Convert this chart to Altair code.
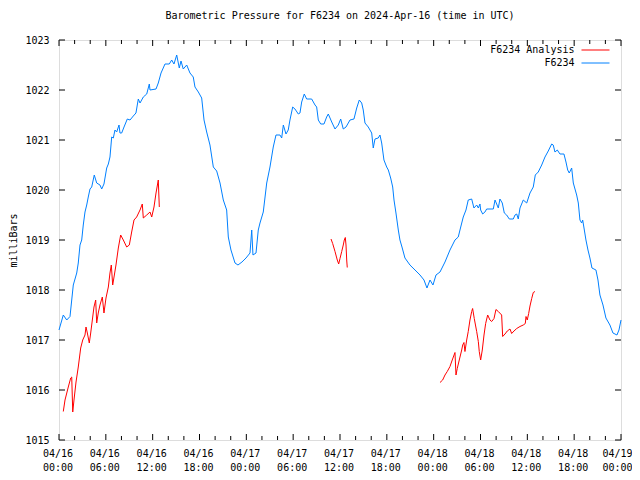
import altair as alt
import pandas as pd

# ---------------- data (hours since 2024-04-16 00:00 UTC, pressure in mb) ----------------
obs_hours = [0.0, 0.55, 0.99, 1.41, 1.63, 1.83, 2.27, 2.47, 2.69, 2.91, 3.11, 3.33, 3.55, 3.75, 3.97,
             4.19, 4.52, 4.83, 5.25, 5.47, 5.76, 6.11, 6.32, 6.53, 6.75, 6.96, 7.17, 7.39, 7.69, 7.81,
             8.03, 8.33, 8.75, 9.10, 9.52, 9.86, 10.03, 10.16, 10.38, 10.80, 11.24, 11.57, 11.66, 12.43,
             12.72, 13.07, 13.58, 14.13, 14.44, 14.73, 15.08, 15.41, 15.63, 15.92, 16.36, 16.78, 17.20,
             17.42, 17.85, 18.28, 18.58, 18.92, 19.34, 19.77, 20.20, 20.63, 21.05, 21.48, 21.69, 22.03,
             22.55, 22.93, 23.44, 23.96, 24.47, 24.69, 24.85, 25.24, 25.53, 25.75, 26.17, 26.61, 27.03,
             27.45, 27.80, 28.31, 28.53, 28.74, 29.08, 29.37, 29.59, 29.94, 30.23, 30.66, 30.87, 31.09,
             31.42, 31.73, 32.37, 32.80, 33.01, 33.22, 33.53, 33.95, 34.29, 34.50, 34.94, 35.36, 35.78,
             36.09, 36.42, 36.77, 37.28, 37.79, 38.14, 38.47, 38.78, 38.98, 39.20, 39.62, 40.06, 40.26,
             40.48, 40.90, 41.12, 41.34, 41.63, 41.98, 42.19, 42.49, 42.75, 42.92, 43.17, 43.47, 43.68,
             43.94, 44.32, 44.96, 45.61, 46.25, 46.76, 47.14, 47.53, 47.91, 48.30, 48.81, 49.45, 50.09,
             50.73, 51.15, 51.37, 51.79, 52.14, 52.43, 52.87, 53.16, 53.51, 53.72, 53.93, 54.02, 54.28,
             54.57, 54.79, 55.64, 55.86, 56.07, 56.28, 56.49, 56.79, 57.05, 57.35, 57.69, 58.20, 58.42,
             58.64, 58.84, 59.06, 59.48, 59.92, 60.34, 60.76, 61.02, 61.40, 61.84, 62.26, 62.68, 63.12,
             63.32, 63.54, 63.84, 64.18, 64.69, 64.95, 65.17, 65.37, 65.68, 65.89, 66.32, 66.53, 66.74,
             66.96, 67.09, 67.26, 67.51, 67.77, 68.02, 68.28, 68.79, 69.05, 69.30, 69.69, 70.07, 70.58,
             70.97, 71.48, 71.74, 72.0]
obs_mbar = [1017.2, 1017.5, 1017.4, 1017.47, 1017.8, 1018.1, 1018.34, 1018.54, 1018.9, 1019.0, 1019.3,
            1019.56, 1019.7, 1019.86, 1020.02, 1020.06, 1020.3, 1020.14, 1020.1, 1020.02, 1020.12, 1020.44,
            1020.52, 1020.66, 1021.06, 1021.04, 1021.2, 1021.16, 1021.3, 1021.14, 1021.14, 1021.26, 1021.42,
            1021.4, 1021.48, 1021.54, 1021.7, 1021.82, 1021.74, 1021.86, 1021.92, 1022.12, 1022.0, 1022.02,
            1022.14, 1022.34, 1022.52, 1022.52, 1022.6, 1022.52, 1022.7, 1022.44, 1022.58, 1022.42, 1022.5,
            1022.34, 1022.26, 1022.06, 1021.96, 1021.84, 1021.4, 1021.16, 1020.9, 1020.46, 1020.38, 1020.14,
            1019.8, 1019.6, 1019.06, 1018.8, 1018.54, 1018.5, 1018.56, 1018.64, 1018.74, 1019.2, 1018.7,
            1018.74, 1019.2, 1019.34, 1019.56, 1020.14, 1020.46, 1020.86, 1021.1, 1021.1, 1021.04, 1021.3,
            1021.12, 1021.2, 1021.4, 1021.66, 1021.62, 1021.52, 1021.54, 1021.76, 1021.92, 1021.82, 1021.82,
            1021.7, 1021.66, 1021.4, 1021.32, 1021.32, 1021.46, 1021.52, 1021.36, 1021.22, 1021.3, 1021.42,
            1021.22, 1021.26, 1021.4, 1021.42, 1021.64, 1021.8, 1021.74, 1021.6, 1021.34, 1021.26, 1021.14,
            1020.84, 1021.02, 1021.04, 1021.1, 1020.94, 1020.6, 1020.46, 1020.4, 1020.24, 1020.06, 1019.8,
            1019.54, 1019.2, 1019.0, 1018.86, 1018.64, 1018.5, 1018.4, 1018.3, 1018.2, 1018.04, 1018.2,
            1018.1, 1018.3, 1018.36, 1018.56, 1018.8, 1019.0, 1019.06, 1019.2, 1019.46, 1019.6, 1019.8,
            1019.82, 1019.64, 1019.7, 1019.64, 1019.72, 1019.6, 1019.52, 1019.56, 1019.62, 1019.62, 1019.8,
            1019.72, 1019.64, 1019.82, 1019.74, 1019.54, 1019.5, 1019.42, 1019.42, 1019.5, 1019.52, 1019.42,
            1019.64, 1019.8, 1019.74, 1019.94, 1020.06, 1020.3, 1020.36, 1020.5, 1020.66, 1020.78, 1020.92,
            1020.9, 1020.76, 1020.8, 1020.72, 1020.72, 1020.56, 1020.4, 1020.34, 1020.44, 1020.14, 1019.9,
            1019.74, 1019.4, 1019.34, 1019.4, 1019.24, 1019.0, 1018.8, 1018.64, 1018.44, 1018.4, 1018.2,
            1017.9, 1017.7, 1017.44, 1017.3, 1017.14, 1017.1, 1017.2, 1017.4]

ana1_hours = [0.55, 0.77, 1.19, 1.50, 1.63, 1.76, 1.92, 2.18, 2.47, 2.78, 3.04, 3.33, 3.46, 3.63, 3.88,
              4.06, 4.27, 4.48, 4.70, 4.83, 5.03, 5.25, 5.55, 5.76, 6.02, 6.32, 6.53, 6.70, 6.88, 7.05,
              7.30, 7.60, 7.90, 8.24, 8.67, 9.01, 9.31, 9.61, 9.95, 10.38, 10.67, 10.80, 11.24, 11.66,
              11.88, 12.17, 12.43, 12.72, 12.85]
ana1_mbar = [1015.57, 1015.8, 1016.06, 1016.24, 1016.26, 1015.56, 1015.8, 1016.16, 1016.46, 1016.84,
             1017.0, 1017.1, 1017.26, 1017.14, 1016.94, 1017.14, 1017.4, 1017.66, 1017.8, 1017.34, 1017.54,
             1017.7, 1017.86, 1017.54, 1017.84, 1018.06, 1018.34, 1018.5, 1018.1, 1018.26, 1018.5, 1018.84,
             1019.1, 1019.0, 1018.86, 1018.9, 1019.16, 1019.4, 1019.46, 1019.6, 1019.72, 1019.44, 1019.5,
             1019.56, 1019.46, 1019.66, 1019.94, 1020.2, 1019.66]

ana2_hours = [34.85, 35.06, 35.36, 35.65, 35.83, 36.0, 36.22, 36.42, 36.55, 36.68, 36.77, 36.86, 36.93]
ana2_mbar = [1019.02, 1018.93, 1018.77, 1018.6, 1018.52, 1018.63, 1018.77, 1018.9, 1019.0, 1019.05,
             1018.9, 1018.6, 1018.45]

ana3_hours = [48.81, 49.15, 49.45, 49.74, 50.09, 50.38, 50.73, 50.86, 51.02, 51.28, 51.59, 51.72, 51.88,
              52.01, 52.23, 52.43, 52.65, 52.87, 52.99, 53.20, 53.51, 53.72, 53.84, 54.02, 54.23, 54.45,
              54.66, 54.92, 55.21, 55.43, 55.73, 55.98, 56.28, 56.71, 56.84, 57.14, 57.43, 57.78, 57.99,
              58.29, 58.64, 59.06, 59.48, 59.74, 59.83, 59.99, 60.17, 60.34, 60.56, 60.76, 60.98]
ana3_mbar = [1016.15, 1016.2, 1016.3, 1016.37, 1016.47, 1016.6, 1016.75, 1016.3, 1016.43, 1016.6,
             1016.8, 1016.9, 1016.95, 1016.77, 1017.0, 1017.17, 1017.4, 1017.57, 1017.63, 1017.43, 1017.17,
             1016.97, 1016.77, 1016.6, 1016.8, 1017.1, 1017.33, 1017.5, 1017.4, 1017.37, 1017.43, 1017.61,
             1017.57, 1017.5, 1017.07, 1017.12, 1017.18, 1017.22, 1017.13, 1017.18, 1017.23, 1017.27,
             1017.3, 1017.33, 1017.47, 1017.4, 1017.53, 1017.68, 1017.83, 1017.95, 1017.97]

series_names = ["F6234 Analysis", "F6234"]
series_colors = ["#ff0000", "#0080ff"]

x_label_hours = [0, 6, 12, 18, 24, 30, 36, 42, 48, 54, 60, 66, 72]
x_date_labels = ["04/16", "04/16", "04/16", "04/16", "04/17", "04/17", "04/17", "04/17",
                 "04/18", "04/18", "04/18", "04/18", "04/19"]
x_time_labels = ["00:00", "06:00", "12:00", "18:00", "00:00", "06:00", "12:00", "18:00",
                 "00:00", "06:00", "12:00", "18:00", "00:00"]
x_minor_hours = [2, 4, 8, 10, 14, 16, 20, 22, 26, 28, 32, 34, 38, 40, 44, 46, 50, 52, 56, 58, 62, 64, 68, 70]
y_tick_values = [1015, 1016, 1017, 1018, 1019, 1020, 1021, 1022, 1023]

X_MIN, X_MAX = 0, 72
Y_MIN, Y_MAX = 1015, 1023
W, H = 562, 400
FONT = "DejaVu Sans Mono"

# ---------------- tables ----------------
rows = []
for h, v in zip(ana1_hours, ana1_mbar):
    rows.append({"h": h, "p": v, "series": series_names[0], "seg": "a1"})
for h, v in zip(ana2_hours, ana2_mbar):
    rows.append({"h": h, "p": v, "series": series_names[0], "seg": "a2"})
for h, v in zip(ana3_hours, ana3_mbar):
    rows.append({"h": h, "p": v, "series": series_names[0], "seg": "a3"})
for h, v in zip(obs_hours, obs_mbar):
    rows.append({"h": h, "p": v, "series": series_names[1], "seg": "o"})
df = pd.DataFrame(rows)

# inward tick marks on all four sides (gnuplot style), lengths in data units
xu = (X_MAX - X_MIN) / W   # hours per pixel
yu = (Y_MAX - Y_MIN) / H   # mb per pixel
ticks = []
for h in x_label_hours:
    ticks.append({"h": h, "h2": h, "p": Y_MIN, "p2": Y_MIN + 6 * yu})
    ticks.append({"h": h, "h2": h, "p": Y_MAX, "p2": Y_MAX - 6 * yu})
for h in x_minor_hours:
    ticks.append({"h": h, "h2": h, "p": Y_MIN, "p2": Y_MIN + 4 * yu})
    ticks.append({"h": h, "h2": h, "p": Y_MAX, "p2": Y_MAX - 4 * yu})
for v in y_tick_values:
    ticks.append({"h": X_MIN, "h2": X_MIN + 6 * xu, "p": v, "p2": v})
    ticks.append({"h": X_MAX, "h2": X_MAX - 6 * xu, "p": v, "p2": v})
tdf = pd.DataFrame(ticks)

label_arr = "[" + ",".join(f"['{d}','{t}']" for d, t in zip(x_date_labels, x_time_labels)) + "]"
label_expr = f"{label_arr}[round(datum.value / 6)]"

xscale = alt.Scale(domain=[X_MIN, X_MAX], nice=False, zero=False)
yscale = alt.Scale(domain=[Y_MIN, Y_MAX], nice=False, zero=False)

x_axis = alt.Axis(values=x_label_hours, labelExpr=label_expr, domain=False, ticks=False,
                  tickSize=0, grid=False, labelPadding=8, labelLineHeight=14,
                  labelFont=FONT, labelFontSize=10, labelColor="black",
                  labelOffset={"condition": {"test": f"datum.value == {X_MAX}", "value": -4},
                               "value": -1.5},
                  labelOverlap=False, labelFlush=False)
y_axis = alt.Axis(values=y_tick_values, format="d", domain=False, ticks=False, tickSize=0,
                  grid=False, labelPadding=10, labelFont=FONT, labelFontSize=10,
                  labelColor="black", titleFont=FONT, titleFontSize=10,
                  titleFontWeight="normal", titleColor="black", titleX=-46, titleY=200,
                  titleAngle=270, titleBaseline="middle", titleAlign="center",
                  labelOverlap=False, labelFlush=False)

lines = alt.Chart(df).mark_line(strokeWidth=1, interpolate="linear").encode(
    x=alt.X("h:Q", scale=xscale, title=None, axis=x_axis),
    y=alt.Y("p:Q", scale=yscale, title="milliBars", axis=y_axis),
    color=alt.Color("series:N", title=None,
                    scale=alt.Scale(domain=series_names, range=series_colors),
                    legend=alt.Legend(orient="none", legendX=531.5, legendY=5, padding=0,
                                      symbolType="M-4.67,0H4.67", symbolSize=36,
                                      symbolStrokeWidth=1,
                                      labelAlign="right", labelOffset={"expr": "-26"},
                                      rowPadding=3, labelFont=FONT, labelFontSize=10,
                                      labelColor="black", labelLimit=300)),
    detail="seg:N",
    order="h:Q",
)

tick_layer = alt.Chart(tdf).mark_rule(color="black", strokeWidth=1).encode(
    x=alt.X("h:Q", scale=xscale, title=None, axis=x_axis),
    x2="h2:Q",
    y=alt.Y("p:Q", scale=yscale, title="milliBars", axis=y_axis),
    y2="p2:Q",
)

chart = alt.layer(lines, tick_layer).properties(
    width=W, height=H,
    title=alt.TitleParams("Barometric Pressure for F6234 on 2024-Apr-16 (time in UTC)",
                          font=FONT, fontSize=10, fontWeight="normal", color="black",
                          anchor="middle", offset=14),
    padding={"left": 51, "top": 32, "right": 11, "bottom": 32},
    autosize=alt.AutoSizeParams(type="none"),
).configure_view(stroke="black", strokeWidth=1).configure(background="white")

chart.save("out.html", embed_options={"renderer": "svg", "actions": False})
